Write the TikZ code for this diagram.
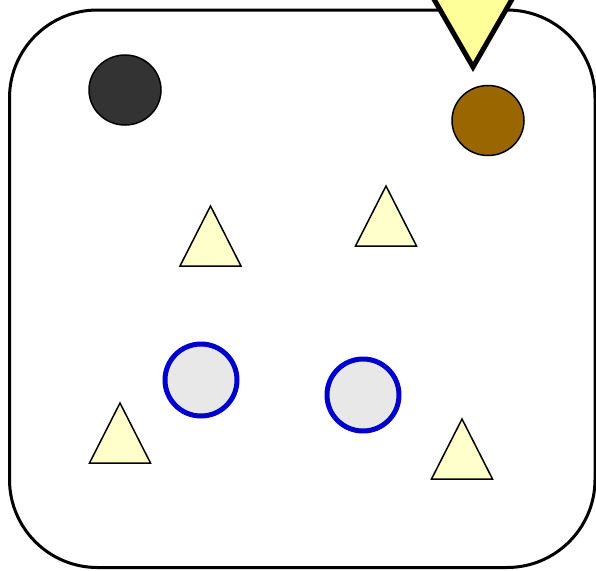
\documentclass[tikz,border=0pt]{standalone}
\usetikzlibrary{shapes.geometric}
\definecolor{darkdot}{HTML}{333333}
\definecolor{browndot}{HTML}{996600}
\definecolor{topyellow}{HTML}{FFFF99}
\definecolor{lightyellow}{HTML}{FFFFCC}
\definecolor{lightgrey}{HTML}{E8E8E8}
\definecolor{ringblue}{HTML}{0000CC}
\tikzset{
  frame/.style={draw=black, line width=3pt, rounded corners=88pt},
  soliddot/.style={ellipse, draw=black, line width=1.5pt, inner sep=0pt, minimum width=72pt, minimum height=70pt},
  ring/.style={circle, draw=ringblue, fill=lightgrey, line width=5pt, inner sep=0pt, minimum size=72pt},
  smalltri/.style={draw=black, fill=lightyellow, line width=1.5pt, line join=miter},
  bigtri/.style={draw=black, fill=topyellow, line width=5pt, line join=miter, miter limit=10}
}
\begin{document}
\begin{tikzpicture}[x=1pt,y=-1pt]
\useasboundingbox (0,0) rectangle (596,570);
\draw[frame] (9.5,10) rectangle (595,567.5);
% top inverted triangle
\coordinate (tipA) at (416,-32);
\coordinate (tipB) at (530,-32);
\coordinate (tipC) at (473,67);
\draw[bigtri] (tipA) -- (tipB) -- (tipC) -- cycle;
% dots
\node[soliddot, fill=darkdot] (dark) at (125,90) {};
\node[soliddot, fill=browndot] (brown) at (488,120.5) {};
% rings
\node[ring] (ringA) at (201,380) {};
\node[ring] (ringB) at (363,395) {};
% small triangles
\foreach \n/\cx/\ty in {triA/210.5/206, triB/386/186, triC/120/403, triD/462/419}{
  \coordinate (\n top) at (\cx,\ty);
  \coordinate (\n left) at ({\cx-30.5},{\ty+60});
  \coordinate (\n right) at ({\cx+30.5},{\ty+60});
  \draw[smalltri] (\n top) -- (\n right) -- (\n left) -- cycle;
}
\end{tikzpicture}
\end{document}
